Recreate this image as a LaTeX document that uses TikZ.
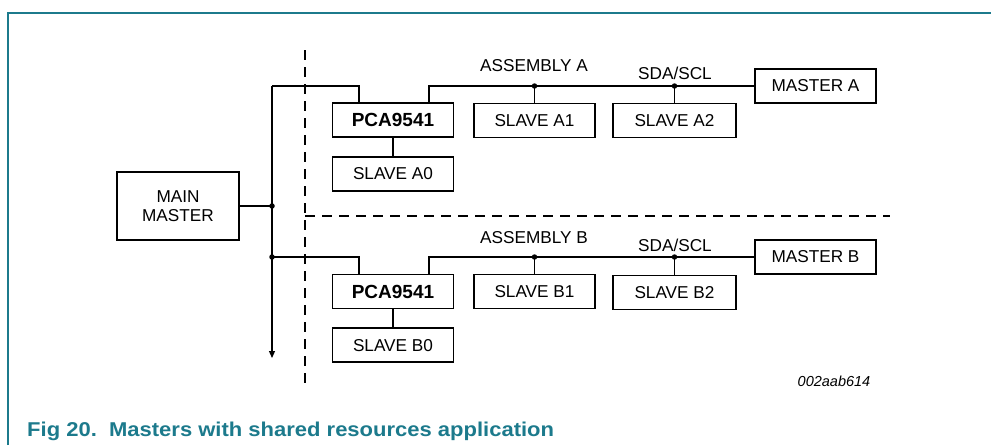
\documentclass[tikz,border=0pt]{standalone}
\usepackage{fontspec}
\setmainfont{Liberation Sans}
\usepackage{tikz}
\usetikzlibrary{arrows.meta,positioning,calc}

\definecolor{nxpteal}{HTML}{1C7A8C}

\begin{document}
\begin{tikzpicture}[
  x=1pt, y=-1pt,
  font=\fontsize{17.2}{19}\selectfont,
  box/.style={draw, line width=1.9pt, align=center, inner sep=0pt, minimum width=121pt, minimum height=34pt},
  wire/.style={line width=1.2pt},
  arr/.style={wire, -{Triangle[length=7pt, width=6pt]}},
  sep/.style={line width=2.4pt, dash pattern=on 10pt off 7pt},
  dot/.style={circle, fill, inner sep=0pt, minimum size=5.5pt}
]
  \useasboundingbox (0,0) rectangle (991,445);
  \draw[nxpteal, line width=1.2pt] (8,445) -- (8,13) -- (991,13);

  % separators
  \draw[sep] (305,50) -- (305,386);
  \draw[sep] (305,216) -- (890,216);

  \node[box, minimum width=122pt, minimum height=68pt] (main) at (178,206) {MAIN\\MASTER};

  % assembly A
  \node[box, font=\fontsize{19}{21}\selectfont\bfseries] (pcaA) at (393,120) {PCA9541};
  \node[box, below=18pt of pcaA] (sA0) {SLAVE A0};
  \node[box] (sA1) at (534.5,120.5) {SLAVE A1};
  \node[box, minimum width=123pt] (sA2) at (674.5,120.5) {SLAVE A2};
  \node[box] (mA) at (815.5,86) {MASTER A};
  \node (labA) at (534,66) {ASSEMBLY A};
  \node (busA) at (675,73) {SDA/SCL};

  % assembly B
  \node[box, font=\fontsize{19}{21}\selectfont\bfseries] (pcaB) at (393,291.5) {PCA9541};
  \node[box, below=18pt of pcaB] (sB0) {SLAVE B0};
  \node[box] (sB1) at (534.5,291.5) {SLAVE B1};
  \node[box, minimum width=123pt] (sB2) at (674.5,292.5) {SLAVE B2};
  \node[box] (mB) at (815.5,257) {MASTER B};
  \node (labB) at (534,238) {ASSEMBLY B};
  \node (busB) at (675,245) {SDA/SCL};

  \node[font=\fontsize{14.5}{16}\selectfont\itshape] (code) at (834,381) {002aab614};
  \node[anchor=base west, inner sep=0pt, text=nxpteal, font=\fontsize{20}{22}\selectfont\bfseries] (cap) at (27,436)
    {\scalebox{1.1}[1]{Fig 20.\ \ Masters with shared resources application}};

  % main bus
  \coordinate (btop) at (272,86);
  \coordinate (jA) at (272,206);
  \coordinate (jB) at (272,257);
  \coordinate (bend) at (272,358);
  \draw[arr] (btop) -- (bend);
  \draw[wire] (main.east) -- (jA);
  \node[dot] at (jA) {};
  \node[dot] at (jB) {};

  % A wiring
  \draw[wire] (btop) -| ([xshift=-34pt]pcaA.north);
  \draw[wire] ([xshift=36pt]pcaA.north) |- (mA.west);
  \draw[wire] (pcaA) -- (sA0);
  \draw[wire] (sA1.north) -- (sA1.north |- mA.west) node[dot] {};
  \draw[wire] (sA2.north) -- (sA2.north |- mA.west) node[dot] {};

  % B wiring
  \draw[wire] (jB) -| ([xshift=-34pt]pcaB.north);
  \draw[wire] ([xshift=36pt]pcaB.north) |- (mB.west);
  \draw[wire] (pcaB) -- (sB0);
  \draw[wire] (sB1.north) -- (sB1.north |- mB.west) node[dot] {};
  \draw[wire] (sB2.north) -- (sB2.north |- mB.west) node[dot] {};
\end{tikzpicture}
\end{document}
